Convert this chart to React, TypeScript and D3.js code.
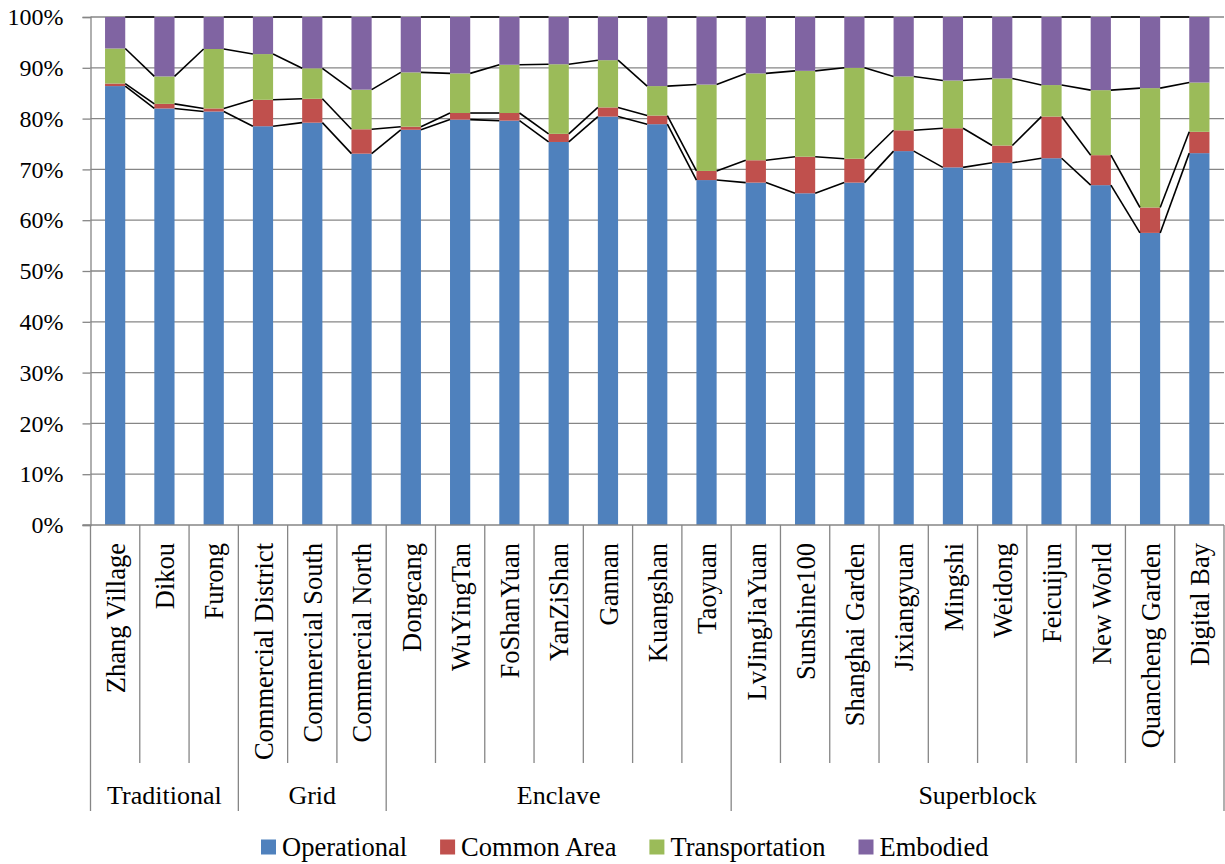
import { useEffect, useRef } from "react";
import * as d3 from "d3";

const categories = [
  "Zhang Village", "Dikou", "Furong",
  "Commercial District", "Commercial South", "Commercial North",
  "Dongcang", "WuYingTan", "FoShanYuan", "YanZiShan", "Gannan", "Kuangshan", "Taoyuan",
  "LvJingJiaYuan", "Sunshine100", "Shanghai Garden", "Jixiangyuan", "Mingshi", "Weidong",
  "Feicuijun", "New World", "Quancheng Garden", "Digital Bay",
];

const groupNames = ["Traditional", "Grid", "Enclave", "Superblock"];
const groupSizes = [3, 3, 7, 10];

const seriesNames = ["Operational", "Common Area", "Transportation", "Embodied"];
const seriesColors = ["#4F81BD", "#C0504D", "#9BBB59", "#8064A2"];

const operational = [86.4, 82.0, 81.4, 78.5, 79.2, 73.1, 77.8, 79.8, 79.6, 75.4, 80.4, 78.9, 67.9, 67.4, 65.3, 67.4, 73.6, 70.4, 71.3, 72.2, 66.9, 57.5, 73.2];
const commonArea = [0.5, 0.9, 0.6, 5.2, 4.7, 4.8, 0.6, 1.3, 1.5, 1.6, 1.8, 1.7, 1.8, 4.4, 7.2, 4.7, 4.1, 7.7, 3.4, 8.2, 5.9, 5.0, 4.2];
const transportation = [6.9, 5.4, 11.7, 9.0, 6.0, 7.8, 10.7, 7.8, 9.5, 13.7, 9.3, 5.8, 17.0, 17.1, 16.9, 17.9, 10.6, 9.4, 13.2, 6.2, 12.8, 23.5, 9.7];
const embodied = [6.2, 11.7, 6.3, 7.3, 10.1, 14.3, 10.9, 11.1, 9.4, 9.3, 8.5, 13.6, 13.3, 11.1, 10.6, 10.0, 11.7, 12.5, 12.1, 13.4, 14.4, 14.0, 12.9];

const yTicks = [0, 0.1, 0.2, 0.3, 0.4, 0.5, 0.6, 0.7, 0.8, 0.9, 1];

const FONT = "'Liberation Serif', 'Times New Roman', serif";

export default function App() {
  const svgRef = useRef<SVGSVGElement>(null);

  useEffect(() => {
    const svg = svgRef.current;
    if (!svg) return;
    const sel = d3.select(svg);
    sel.selectAll("*").remove();

    const left = 90.5;
    const right = 1224;
    const top = 17;
    const bottom = 525;
    const catLabelBottom = 763;
    const groupBottom = 811;

    const rows = categories.map((c, i) => ({
      name: c,
      Operational: operational[i],
      "Common Area": commonArea[i],
      Transportation: transportation[i],
      Embodied: embodied[i],
    }));

    const stacked = d3
      .stack<any>()
      .keys(seriesNames)
      .offset(d3.stackOffsetExpand)(rows);

    const x = d3.scaleBand<string>().domain(categories).range([left, right]).padding(0);
    const step = x.step();
    const bw = step * 0.41;
    const y = d3.scaleLinear().domain([0, 1]).range([bottom, top]);

    const grid = "#868686";

    // gridlines
    sel
      .append("g")
      .selectAll("line")
      .data(yTicks.slice(1))
      .enter()
      .append("line")
      .attr("x1", left)
      .attr("x2", right)
      .attr("y1", (d) => y(d))
      .attr("y2", (d) => y(d))
      .attr("stroke", grid)
      .attr("stroke-width", 1.3);

    // y axis
    const yAxis = sel
      .append("g")
      .attr("transform", `translate(${left},0)`)
      .call(
        d3
          .axisLeft(y)
          .tickValues(yTicks)
          .tickSize(8)
          .tickPadding(19)
          .tickFormat((d) => `${Math.round(+d * 100)}%`)
      );
    yAxis.select(".domain").attr("stroke", grid).attr("stroke-width", 1.3);
    yAxis.selectAll(".tick line").attr("stroke", grid).attr("stroke-width", 1.3);
    yAxis
      .selectAll(".tick text")
      .attr("font-family", FONT)
      .attr("font-size", 24)
      .attr("fill", "#000");

    // bars
    stacked.forEach((layer, si) => {
      sel
        .append("g")
        .selectAll("rect")
        .data(layer)
        .enter()
        .append("rect")
        .attr("x", (d: any) => (x(d.data.name) as number) + step / 2 - bw / 2)
        .attr("width", bw)
        .attr("y", (d) => y(d[1]))
        .attr("height", (d) => y(d[0]) - y(d[1]))
        .attr("fill", seriesColors[si]);
    });

    // series lines
    stacked.forEach((layer) => {
      const segs = layer.slice(0, -1).map((d: any, i) => ({
        x1: (x(d.data.name) as number) + step / 2 + bw / 2,
        y1: y(d[1]),
        x2: (x(categories[i + 1]) as number) + step / 2 - bw / 2,
        y2: y(layer[i + 1][1]),
      }));
      sel
        .append("g")
        .selectAll("line")
        .data(segs)
        .enter()
        .append("line")
        .attr("x1", (d) => d.x1)
        .attr("y1", (d) => d.y1)
        .attr("x2", (d) => d.x2)
        .attr("y2", (d) => d.y2)
        .attr("stroke", "#000")
        .attr("stroke-width", 1.6);
    });

    // x axis line
    sel
      .append("line")
      .attr("x1", left - 8)
      .attr("x2", right)
      .attr("y1", bottom)
      .attr("y2", bottom)
      .attr("stroke", grid)
      .attr("stroke-width", 1.3);

    // category separators
    const boundaries = d3.range(categories.length + 1).map((i) => left + i * step);
    const groupStarts = [0];
    groupSizes.forEach((s, i) => groupStarts.push(groupStarts[i] + s));

    sel
      .append("g")
      .selectAll("line")
      .data(boundaries.map((b, i) => ({ b, i })))
      .enter()
      .append("line")
      .attr("x1", (d) => d.b)
      .attr("x2", (d) => d.b)
      .attr("y1", bottom)
      .attr("y2", (d) => (groupStarts.includes(d.i) ? groupBottom : catLabelBottom))
      .attr("stroke", grid)
      .attr("stroke-width", 1.3);

    // category labels
    sel
      .append("g")
      .selectAll("text")
      .data(categories)
      .enter()
      .append("text")
      .attr("transform", (d) => `translate(${(x(d) as number) + step / 2 + 1},543) rotate(-90)`)
      .attr("text-anchor", "end")
      .attr("dy", "0.33em")
      .attr("font-family", FONT)
      .attr("font-size", 26.5)
      .attr("fill", "#000")
      .text((d) => d);

    // group labels
    sel
      .append("g")
      .selectAll("text")
      .data(groupNames)
      .enter()
      .append("text")
      .attr("x", (_d, i) => (boundaries[groupStarts[i]] + boundaries[groupStarts[i + 1]]) / 2)
      .attr("y", 804)
      .attr("text-anchor", "middle")
      .attr("font-family", FONT)
      .attr("font-size", 26)
      .attr("fill", "#000")
      .text((d) => d);

    // legend
    const legend = sel.append("g");
    let cx = 261;
    seriesNames.forEach((name, i) => {
      const g = legend.append("g").attr("transform", `translate(${cx},847)`);
      g.append("rect")
        .attr("width", 15)
        .attr("height", 15)
        .attr("y", -7.5)
        .attr("fill", seriesColors[i]);
      const t = g
        .append("text")
        .attr("x", 21)
        .attr("dy", "0.35em")
        .attr("font-family", FONT)
        .attr("font-size", 26.5)
        .attr("fill", "#000")
        .text(name);
      cx += 21 + (t.node() as SVGTextElement).getComputedTextLength() + 33;
    });
  }, []);

  return (
    <svg
      ref={svgRef}
      width={1225}
      height={864}
      style={{ position: "absolute", left: 0, top: 0, background: "#fff" }}
    />
  );
}
